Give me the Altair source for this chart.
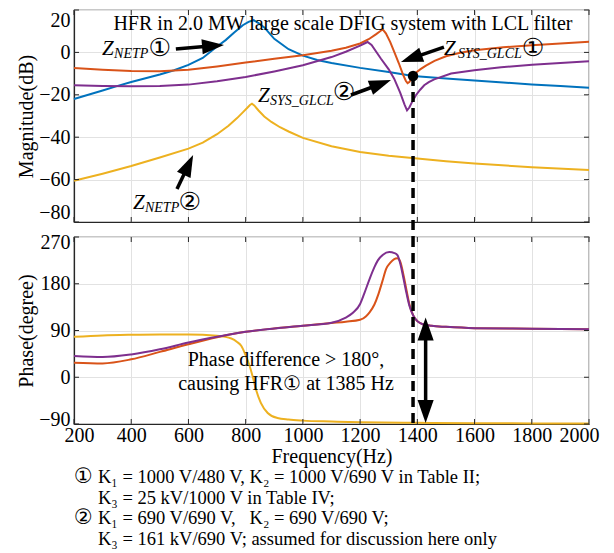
import altair as alt
import pandas as pd

# ---------------- data ----------------
freq_ticks = [200, 400, 600, 800, 1000, 1200, 1400, 1600, 1800, 2000]
mag_ticks = [-80, -60, -40, -20, 0, 20]
phase_ticks = [-90, 0, 90, 180, 270]

# magnitude (dB)
netp1_f = [200, 250, 300, 350, 400, 450, 500, 550, 600, 650, 700, 730, 760, 790, 810, 828,
           845, 865, 900, 950, 1000, 1050, 1100, 1200, 1300, 1385, 1500, 1600, 1700, 1800, 1900, 2000]
netp1_db = [-22.0, -20.0, -18.0, -15.9, -14.0, -12.2, -10.4, -8.4, -5.9, -2.6, 2.8, 5.8, 9.4, 12.8, 14.4, 15.2,
            13.8, 11.8, 6.4, 1.5, -1.5, -3.6, -5.0, -7.3, -9.2, -11.1, -12.3, -13.2, -14.2, -15.1, -15.9, -16.7]

sys1_f = [200, 300, 400, 500, 600, 700, 800, 900, 1000, 1100, 1150, 1200, 1230, 1255, 1270, 1279, 1290,
          1305, 1320, 1335, 1350, 1360, 1366, 1372, 1380, 1385, 1395, 1410, 1430, 1460, 1500, 1550, 1600,
          1700, 1800, 1900, 2000]
sys1_db = [-7.4, -8.2, -8.8, -8.9, -8.2, -6.6, -4.8, -3.0, -1.3, 0.8, 2.2, 4.2, 6.2, 8.5, 10.0, 10.9, 9.0,
           5.0, 0.0, -5.0, -10.5, -13.5, -14.5, -14.0, -12.3, -11.1, -9.6, -8.0, -6.2, -4.0, -1.8, -0.2, 1.0,
           2.4, 3.4, 4.2, 5.0]

netp2_f = [200, 300, 400, 500, 600, 650, 700, 740, 770, 790, 805, 815, 822, 830, 845, 865, 890, 920, 950,
           1000, 1100, 1200, 1300, 1400, 1500, 1600, 1800, 2000]
netp2_db = [-60.5, -57.2, -53.6, -49.6, -45.4, -42.6, -38.6, -34.6, -31.0, -28.3, -26.2, -24.8, -24.2, -25.0,
            -27.4, -30.2, -32.8, -35.3, -37.3, -40.3, -44.3, -47.0, -48.8, -50.1, -51.3, -52.4, -54.2, -55.5]

sys2_f = [200, 300, 400, 500, 600, 700, 800, 900, 1000, 1100, 1150, 1200, 1215, 1226, 1240, 1273, 1300,
          1319, 1340, 1355, 1364, 1372, 1380, 1395, 1410, 1424, 1440, 1459, 1518, 1599, 1693, 1801, 1900, 2000]
sys2_db = [-15.5, -15.8, -16.0, -15.8, -15.2, -13.6, -11.6, -9.0, -6.1, -2.2, 0.3, 3.2, 4.2, 4.9, 3.5, -3.0,
           -8.0, -12.4, -19.0, -24.5, -27.3, -26.0, -23.8, -20.2, -17.6, -15.5, -14.0, -12.7, -10.0, -8.4,
           -7.0, -5.8, -5.0, -4.2]

# phase (degree)
netp2_pf = [200, 300, 400, 500, 600, 700, 750, 770, 785, 800, 812, 824, 836, 853, 877, 911, 950, 1000,
            1100, 1200, 1400, 1600, 1800, 2000]
netp2_ph = [77.8, 80.5, 81.7, 82.3, 82.3, 79.7, 74.5, 68.0, 60.0, 42.0, 25.0, 2.3, -23.6, -49.3, -68.7,
            -78.4, -81.5, -83.5, -85.3, -86.8, -87.8, -88.4, -88.8, -89.2]

sys1_pf = [200, 300, 400, 500, 600, 700, 800, 900, 1000, 1100, 1150, 1200, 1220, 1233, 1250, 1264, 1278,
           1291, 1305, 1318, 1330, 1340, 1352, 1362, 1372, 1386, 1400, 1419, 1450, 1500, 1600, 1800, 2000]
sys1_ph = [28.0, 26.7, 34.5, 48.8, 63.5, 77.0, 87.5, 94.0, 99.1, 104.5, 107.0, 110.7, 117.0, 125.0, 140.0,
           160.0, 185.0, 208.6, 220.0, 227.0, 229.0, 223.0, 196.0, 168.0, 141.0, 118.5, 108.0, 102.0, 99.0,
           97.0, 94.5, 93.5, 92.5]

sys2_pf = [200, 300, 400, 500, 600, 700, 800, 900, 1000, 1100, 1150, 1175, 1200, 1215, 1233, 1250, 1262,
           1280, 1302, 1320, 1331, 1342, 1352, 1362, 1372, 1386, 1400, 1419, 1450, 1500, 1600, 1800, 2000]
sys2_ph = [41.0, 39.0, 44.0, 53.8, 66.8, 77.8, 87.5, 94.0, 99.1, 105.0, 115.0, 124.0, 141.0, 162.0, 189.0,
           212.0, 225.0, 236.0, 241.0, 239.0, 234.6, 215.0, 189.0, 162.0, 138.0, 118.5, 108.0, 102.0, 99.0,
           97.0, 94.5, 93.5, 92.5]

hfr_f = [1385]
hfr_db = [-11.1]

# annotation texts and anchors (data coordinates)
title_text = ["HFR in 2.0 MW large scale DFIG system with LCL filter"]
title_f = [1140]
title_db = [10.6]

lab_z = ["Z", "Z", "Z", "Z"]
lab_z_f = [298, 1493, 843, 406]
lab_z_db = [-1.2, -1.2, -23.4, -73.9]
lab_sub = ["NETP", "SYS_GLCL", "SYS_GLCL", "NETP"]
lab_sub_f = [340, 1542, 885, 448]
lab_sub_db = [-2.6, -2.6, -24.8, -75.3]
lab_num = ["①", "①", "②", "②"]
lab_num_f = [460, 1765, 1104, 565]
lab_num_db = [2.3, 2.3, -18.9, -70.8]

arr_f = [556, 1493, 1168, 560]
arr_db = [1.6, 2.5, -20.1, -64.4]
arr_f2 = [686, 1379, 1272, 600]
arr_db2 = [3.1, -2.8, -14.9, -53.1]
arr_ang = [85.2, 250.7, 69.4, 25.2]

darr_f = [1429, 1429]
darr_ph = [92.9, -65.8]
darr_ang = [0, 180]

phase_text = ["Phase difference > 180°,", "causing HFR① at 1385 Hz"]
phase_text_f = [941, 941]
phase_text_ph = [33.9, -12.6]

note_marks = ["①", "②"]
note_lines = ["K₁ = 1000 V/480 V, K₂ = 1000 V/690 V in Table II;",
              "K₃ = 25 kV/1000 V in Table IV;",
              "K₁ = 690 V/690 V,\u00a0\u00a0\u00a0K₂ = 690 V/690 V;",
              "K₃ = 161 kV/690 V; assumed for discussion here only"]

# ---------------- style ----------------
FONT = "Liberation Serif"
W, H1, H2, GAP = 515, 212, 187, 15
AX = "#262626"
GRID = "#e2e2e2"
BLUE, ORANGE, YELLOW, PURPLE = "#0072BD", "#D95319", "#EDB120", "#7E2F8E"
HEAD = "M0,-1L0.68,1L-0.68,1Z"

xs = alt.Scale(domain=[200, 2000], nice=False, zero=False)
ys1 = alt.Scale(domain=[-80, 20], nice=False, zero=False)
ys2 = alt.Scale(domain=[-90, 270], nice=False, zero=False)

top_xaxis = alt.Axis(values=freq_ticks, labels=False, ticks=False, title=None, grid=True)
top_yaxis = alt.Axis(values=mag_ticks, title="Magnitude(dB)", ticks=False, labelFlush=True,
                     labelPadding=4, titleX=-48, titleY=H1 / 2, titleBaseline="middle", grid=True)
bot_xaxis = alt.Axis(values=freq_ticks, title="Frequency(Hz)", ticks=False, grid=True, format="d",
                     labelOverlap=False, labelFlush=True, labelFlushOffset=10,
                     labelPadding=1, titlePadding=1)
bot_yaxis = alt.Axis(values=phase_ticks, title="Phase(degree)", ticks=False, labelPadding=4,
                     labelFlush=True, labelFlushOffset=5,
                     titleX=-48, titleY=H2 / 2, titleBaseline="middle", grid=True)

PANELS = {
    "top": (ys1, top_xaxis, top_yaxis, H1),
    "bot": (ys2, bot_xaxis, bot_yaxis, H2),
}


def X(field, p):
    return alt.X(field, type="quantitative", scale=xs, axis=PANELS[p][1])


def Y(field, p):
    return alt.Y(field, type="quantitative", scale=PANELS[p][0], axis=PANELS[p][2])


def curve(f, v, color, p, interp):
    df = pd.DataFrame({"f": f, "v": v})
    return alt.Chart(df).mark_line(color=color, strokeWidth=2, interpolate=interp).encode(
        x=X("f", p), y=Y("v", p))


def inward_ticks(yvals, p):
    H = PANELS[p][3]
    dx = pd.DataFrame({"f": freq_ticks})
    dy = pd.DataFrame({"v": yvals})
    rx = alt.Chart(dx).mark_rule(color=AX, strokeWidth=1)
    ry = alt.Chart(dy).mark_rule(color=AX, strokeWidth=1)
    return [
        rx.encode(x=X("f", p), y=alt.value(H - 5), y2=alt.value(H)),
        rx.encode(x=X("f", p), y=alt.value(0), y2=alt.value(5)),
        ry.encode(y=Y("v", p), x=alt.value(0), x2=alt.value(5)),
        ry.encode(y=Y("v", p), x=alt.value(W - 5), x2=alt.value(W)),
    ]


def texts(t, f, v, p, **kw):
    df = pd.DataFrame({"t": t, "f": f, "v": v})
    return alt.Chart(df).mark_text(color="black", **kw).encode(
        x=X("f", p), y=Y("v", p), text="t:N")


# ---------------- top: magnitude ----------------
top_layers = [
    curve(netp1_f, netp1_db, BLUE, "top", "linear"),
    curve(sys1_f, sys1_db, ORANGE, "top", "linear"),
    curve(netp2_f, netp2_db, YELLOW, "top", "linear"),
    curve(sys2_f, sys2_db, PURPLE, "top", "linear"),
]
top_layers += inward_ticks(mag_ticks, "top")

top_layers.append(texts(title_text, title_f, title_db, "top", font=FONT, fontSize=20,
                        align="center", baseline="alphabetic"))
top_layers.append(texts(lab_z, lab_z_f, lab_z_db, "top", font=FONT, fontSize=21, fontStyle="italic",
                        align="left", baseline="alphabetic"))
top_layers.append(texts(lab_sub, lab_sub_f, lab_sub_db, "top", font=FONT, fontSize=14, fontStyle="italic",
                        align="left", baseline="alphabetic"))
top_layers.append(texts(lab_num, lab_num_f, lab_num_db, "top", font="DejaVu Sans", fontSize=25,
                        align="left", baseline="middle"))

arr_df = pd.DataFrame({"f": arr_f, "v": arr_db, "f2": arr_f2, "v2": arr_db2, "ang": arr_ang})
top_layers.append(alt.Chart(arr_df).mark_rule(color="black", strokeWidth=3.5).encode(
    x=X("f", "top"), y=Y("v", "top"), x2="f2:Q", y2="v2:Q"))
top_layers.append(alt.Chart(arr_df).mark_point(shape=HEAD, filled=True, size=484, color="black",
                                               opacity=1, strokeWidth=0).encode(
    x=X("f2", "top"), y=Y("v2", "top"), angle=alt.Angle("ang:Q", scale=None)))

hfr_df = pd.DataFrame({"f": hfr_f, "v": hfr_db})
top_layers.append(alt.Chart(hfr_df).mark_rule(color="black", strokeWidth=3.5, strokeDash=[10, 6]).encode(
    x=X("f", "top"), y=Y("v", "top"), y2=alt.value(H1 + GAP)))
top_layers.append(alt.Chart(hfr_df).mark_point(shape="circle", filled=True, size=110, color="black",
                                               opacity=1).encode(x=X("f", "top"), y=Y("v", "top")))

top = alt.layer(*top_layers).properties(width=W, height=H1)

# ---------------- bottom: phase ----------------
bot_layers = [
    curve(netp2_pf, netp2_ph, YELLOW, "bot", "monotone"),
    curve(sys1_pf, sys1_ph, ORANGE, "bot", "monotone"),
    curve(sys2_pf, sys2_ph, PURPLE, "bot", "monotone"),
]
bot_layers += inward_ticks(phase_ticks, "bot")

bot_layers.append(alt.Chart(hfr_df).mark_rule(color="black", strokeWidth=3.5, strokeDash=[10, 6]).encode(
    x=X("f", "bot"), y=alt.value(0), y2=alt.value(H2)))

darr_df = pd.DataFrame({"f": darr_f, "v": darr_ph, "ang": darr_ang})
bot_layers.append(alt.Chart(darr_df).mark_line(color="black", strokeWidth=3.5).encode(
    x=X("f", "bot"), y=Y("v", "bot")))
bot_layers.append(alt.Chart(darr_df).mark_point(shape="M0,-1L0.7,1L-0.7,1Z", filled=True, size=529,
                                                color="black", opacity=1, strokeWidth=0).encode(
    x=X("f", "bot"), y=Y("v", "bot"), angle=alt.Angle("ang:Q", scale=None)))

bot_layers.append(texts(phase_text, phase_text_f, phase_text_ph, "bot", font=FONT, fontSize=20,
                        align="center", baseline="middle"))

# notes below the chart
note_y = [240, 260.5, 281, 302]
for i, m in enumerate(note_marks):
    bot_layers.append(alt.Chart(pd.DataFrame({"t": [m]})).mark_text(
        font="DejaVu Sans", fontSize=21, align="left", baseline="middle", color="black").encode(
        text="t:N", x=alt.value(0), y=alt.value(note_y[2 * i])))
for i, line in enumerate(note_lines):
    bot_layers.append(alt.Chart(pd.DataFrame({"t": [line]})).mark_text(
        font=FONT, fontSize=18.5, align="left", baseline="middle", color="black").encode(
        text="t:N", x=alt.value(24), y=alt.value(note_y[i])))

bottom = alt.layer(*bot_layers).properties(width=W, height=H2)

chart = alt.vconcat(top, bottom, spacing=GAP, bounds="flush").properties(
    padding={"left": 7, "top": 0, "right": 4, "bottom": 0},
    background="white",
).configure_view(stroke=AX, strokeWidth=1.2).configure_axis(
    labelFont=FONT, labelFontSize=20, labelColor="black",
    titleFont=FONT, titleFontSize=20, titleColor="black", titleFontWeight="normal",
    domainColor=AX, domainWidth=1.2, gridColor=GRID, gridWidth=1,
)

chart.save("out.html", embed_options={"renderer": "svg", "actions": False})
